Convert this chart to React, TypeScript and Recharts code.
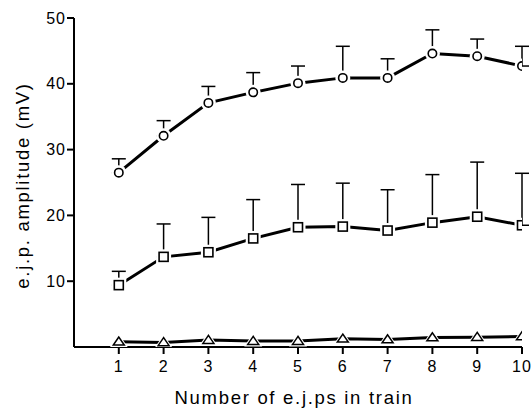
import React from "react";
import { LineChart, Line, XAxis, YAxis, ErrorBar, Label } from "recharts";

const trainNumbers = [1, 2, 3, 4, 5, 6, 7, 8, 9, 10];
const circleMean = [26.5, 32.1, 37.1, 38.7, 40.1, 40.9, 40.9, 44.6, 44.2, 42.7];
const circleSem = [2.1, 2.3, 2.5, 3.0, 2.6, 4.8, 2.9, 3.6, 2.6, 3.0];
const squareMean = [9.4, 13.7, 14.4, 16.5, 18.2, 18.3, 17.7, 18.9, 19.8, 18.5];
const squareSem = [2.1, 5.0, 5.3, 5.9, 6.5, 6.6, 6.2, 7.3, 8.3, 7.9];
const triangleMean = [0.8, 0.7, 1.05, 0.9, 0.9, 1.25, 1.15, 1.45, 1.5, 1.6];
const xTicks = [1, 2, 3, 4, 5, 6, 7, 8, 9, 10];
const yTicks = [10, 20, 30, 40, 50];

const data = trainNumbers.map((x, i) => ({
  x,
  c: circleMean[i],
  cErr: [0, circleSem[i]],
  s: squareMean[i],
  sErr: [0, squareSem[i]],
  t: triangleMean[i],
}));

const FONT = '"Liberation Sans", Arial, Helvetica, sans-serif';

const ok = (p: any) => p && typeof p.cx === "number" && typeof p.cy === "number" && !isNaN(p.cy);

const circleHalo = (p: any) =>
  ok(p) ? <circle key={`ch${p.index}`} cx={p.cx} cy={p.cy} r={7.5} fill="#fff" stroke="none" /> : <g key={`ch${p.index}`} />;
const circleDot = (p: any) =>
  ok(p) ? <circle key={`cd${p.index}`} cx={p.cx} cy={p.cy} r={4.2} fill="#fff" stroke="#000" strokeWidth={1.6} /> : <g key={`cd${p.index}`} />;
const squareHalo = (p: any) =>
  ok(p) ? <rect key={`sh${p.index}`} x={p.cx - 7.5} y={p.cy - 7.5} width={15} height={15} fill="#fff" stroke="none" /> : <g key={`sh${p.index}`} />;
const squareDot = (p: any) =>
  ok(p) ? <rect key={`sd${p.index}`} x={p.cx - 4.5} y={p.cy - 4.5} width={9} height={9} fill="#fff" stroke="#000" strokeWidth={1.6} /> : <g key={`sd${p.index}`} />;
const triHalo = (p: any) =>
  ok(p) ? (
    <polygon key={`th${p.index}`} points={`${p.cx},${p.cy - 8} ${p.cx - 9},${p.cy + 5.5} ${p.cx + 9},${p.cy + 5.5}`} fill="#fff" stroke="none" />
  ) : <g key={`th${p.index}`} />;
const triDot = (p: any) =>
  ok(p) ? (
    <polygon key={`td${p.index}`} points={`${p.cx},${p.cy - 4.7} ${p.cx - 5.5},${p.cy + 3.3} ${p.cx + 5.5},${p.cy + 3.3}`} fill="#fff" stroke="#000" strokeWidth={1.5} strokeLinejoin="miter" />
  ) : <g key={`td${p.index}`} />;

export default function App() {
  return (
    <div style={{ position: "absolute", left: 0, top: 0, width: 531, height: 408, background: "#fff" }}>
      <LineChart width={531} height={408} data={data} margin={{ top: 18, right: 9, bottom: 0, left: 0 }}>
        <XAxis
          dataKey="x"
          type="number"
          domain={[0, 10]}
          ticks={xTicks}
          allowDataOverflow
          height={61}
          stroke="#000"
          strokeWidth={2}
          tickSize={7}
          tickMargin={7}
          tick={{ fill: "#000", fontSize: 16, fontFamily: FONT, letterSpacing: 1 }}
          tickLine={{ stroke: "#000", strokeWidth: 2 }}
        >
          <Label
            value="Number of e.j.ps in train"
            position="insideBottom"
            offset={4}
            dx={-4}
            style={{ fill: "#000", fontSize: 18.5, fontFamily: FONT, letterSpacing: 1.7 }}
          />
        </XAxis>
        <YAxis
          type="number"
          domain={[0, 50]}
          ticks={yTicks}
          allowDataOverflow
          width={74}
          stroke="#000"
          strokeWidth={2}
          tickSize={7}
          tickMargin={1}
          tick={{ fill: "#000", fontSize: 16, fontFamily: FONT, letterSpacing: 1 }}
          tickLine={{ stroke: "#000", strokeWidth: 2 }}
        >
          <Label
            value="e.j.p. amplitude (mV)"
            angle={-90}
            position="insideLeft"
            offset={22}
            dy={3}
            style={{ fill: "#000", fontSize: 18.5, fontFamily: FONT, letterSpacing: 1.7, textAnchor: "middle" }}
          />
        </YAxis>

        <Line dataKey="c" stroke="#000" strokeWidth={3} dot={circleHalo} activeDot={false} isAnimationActive={false} />
        <Line dataKey="c" stroke="none" dot={false} activeDot={false} isAnimationActive={false}>
          <ErrorBar dataKey="cErr" direction="y" width={7} stroke="#000" strokeWidth={1.5} />
        </Line>
        <Line dataKey="c" stroke="none" dot={circleDot} activeDot={false} isAnimationActive={false} />

        <Line dataKey="s" stroke="#000" strokeWidth={3} dot={squareHalo} activeDot={false} isAnimationActive={false} />
        <Line dataKey="s" stroke="none" dot={false} activeDot={false} isAnimationActive={false}>
          <ErrorBar dataKey="sErr" direction="y" width={7} stroke="#000" strokeWidth={1.5} />
        </Line>
        <Line dataKey="s" stroke="none" dot={squareDot} activeDot={false} isAnimationActive={false} />

        <Line dataKey="t" stroke="#000" strokeWidth={3} dot={triHalo} activeDot={false} isAnimationActive={false} />
        <Line dataKey="t" stroke="none" dot={triDot} activeDot={false} isAnimationActive={false} />
      </LineChart>
    </div>
  );
}
